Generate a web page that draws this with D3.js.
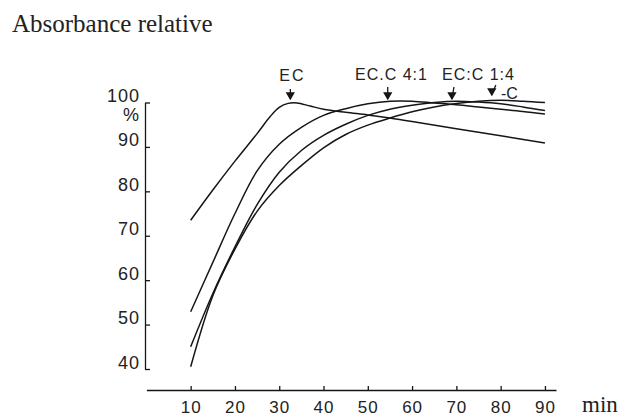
<!DOCTYPE html>
<html>
<head>
<meta charset="utf-8">
<script src="https://cdn.jsdelivr.net/npm/d3@7/dist/d3.min.js"></script>
<style>
  html, body { margin: 0; padding: 0; background: #fff; }
  svg { display: block; }
</style>
</head>
<body>
<script>
// ---- data ----
const title = "Absorbance relative";
const xTicks = [10, 20, 30, 40, 50, 60, 70, 80, 90];
const yTicks = [40, 50, 60, 70, 80, 90, 100];

const ecTime  = [10, 15, 20, 25, 28, 30, 32, 34, 37, 40, 45, 50, 55, 60, 70, 80, 90];
const ecValue = [73.5, 80.3, 86.8, 93, 96.9, 98.9, 99.8, 99.9, 99.2, 98.5, 97.8, 97.2, 96.5, 95.7, 94.1, 92.5, 90.9];

const minutes = [10, 15, 20, 25, 30, 35, 40, 45, 50, 55, 60, 65, 70, 75, 80, 85, 90];
const ec41Value = [52.9, 64, 75, 84.6, 90.6, 94.4, 97.1, 98.6, 99.7, 100.3, 100.3, 99.9, 99.5, 99, 98.5, 98, 97.4];
const ec14Value = [45, 57, 67.5, 77, 84.3, 89.2, 92.6, 95.1, 97.1, 98.5, 99.4, 100, 100.3, 100.1, 99.7, 99, 98.2];
const cValue    = [40.5, 56.5, 67, 75.5, 81.3, 85.8, 89.8, 92.8, 94.9, 96.5, 97.9, 99, 99.8, 100.3, 100.5, 100.3, 100];

const labels   = ["EC", "EC.C 4:1", "EC:C 1:4", "-C"];
const peakTime = [32.5, 54.5, 69, 78];

// ---- drawing ----
const W = 622, H = 418;
const svg = d3.select("body").append("svg").attr("width", W).attr("height", H);

const x = d3.scaleLinear().domain([0, 92.5]).range([146.4, 556]);
const y = d3.scaleLinear().domain([40, 100]).range([369, 102.5]);

const ink = "#161616";

svg.append("text")
  .attr("x", 12).attr("y", 32)
  .attr("font-family", "Liberation Serif, Times New Roman, serif")
  .attr("font-size", 25)
  .attr("fill", "#222")
  .text(title);

// x axis
const xAxis = svg.append("g")
  .attr("transform", `translate(0,390)`)
  .call(d3.axisBottom(x).tickValues(xTicks).tickSizeInner(-4).tickSizeOuter(0).tickPadding(0));
xAxis.select(".domain").attr("stroke", ink).attr("stroke-width", 1.3);
xAxis.selectAll(".tick line").attr("stroke", ink).attr("stroke-width", 1.3);
xAxis.selectAll(".tick text")
  .attr("y", 23).attr("dy", 0)
  .attr("font-family", "Liberation Sans, Arial, sans-serif")
  .attr("font-size", 17)
  .attr("letter-spacing", 1)
  .attr("fill", "#222");

svg.append("text")
  .attr("x", 582).attr("y", 412)
  .attr("font-family", "Liberation Serif, Times New Roman, serif")
  .attr("font-size", 23)
  .attr("fill", "#222")
  .text("min");

// y axis
const yAxis = svg.append("g")
  .attr("transform", `translate(145,0)`)
  .call(d3.axisLeft(y).tickValues(yTicks).tickSizeInner(-5).tickSizeOuter(0).tickPadding(5));
yAxis.select(".domain").attr("stroke", ink).attr("stroke-width", 1.3);
yAxis.selectAll(".tick line").attr("stroke", ink).attr("stroke-width", 1.3);
yAxis.selectAll(".tick text")
  .attr("dy", 0).attr("y", -1)
  .attr("font-family", "Liberation Sans, Arial, sans-serif")
  .attr("font-size", 18)
  .attr("letter-spacing", 1)
  .attr("fill", "#222");

svg.append("text")
  .attr("x", 139).attr("y", y(100) + 18)
  .attr("text-anchor", "end")
  .attr("font-family", "Liberation Sans, Arial, sans-serif")
  .attr("font-size", 18)
  .attr("fill", "#222")
  .text("%");

// curves
const line = d3.line().x(d => x(d[0])).y(d => y(d[1])).curve(d3.curveCatmullRom.alpha(0.5));
const series = [
  d3.zip(ecTime, ecValue),
  d3.zip(minutes, ec41Value),
  d3.zip(minutes, ec14Value),
  d3.zip(minutes, cValue)
];
svg.append("g").selectAll("path").data(series).join("path")
  .attr("d", line)
  .attr("fill", "none")
  .attr("stroke", ink)
  .attr("stroke-width", 1.5);

// annotations
const labelFont = "Liberation Sans, Arial, sans-serif";
const lab = svg.append("g").attr("font-family", labelFont).attr("font-size", 16).attr("fill", "#222");
lab.append("text").attr("x", x(peakTime[0]) - 11).attr("y", 81).attr("letter-spacing", 2).text(labels[0]);
lab.append("text").attr("x", 355).attr("y", 80).attr("letter-spacing", 1).text(labels[1]);
lab.append("text").attr("x", 442).attr("y", 80).attr("letter-spacing", 1).text(labels[2]);
lab.append("text").attr("x", 501).attr("y", 99).text(labels[3]);

// arrows pointing at each maximum
const arrowG = svg.append("g").attr("stroke", ink).attr("fill", ink).attr("stroke-width", 1.3);
const arrowSpecs = [
  {t: peakTime[0], top: 89, bot: 99, slant: 0},
  {t: peakTime[1], top: 87, bot: 99, slant: 0},
  {t: peakTime[2], top: 87, bot: 99, slant: -2},
  {t: peakTime[3], top: 85, bot: 95, slant: -4}
];
arrowSpecs.forEach(a => {
  const xb = x(a.t), xt = xb - a.slant;
  arrowG.append("line").attr("x1", xt).attr("y1", a.top).attr("x2", xb).attr("y2", a.bot);
  arrowG.append("path").attr("d", `M${xb - 3.5},${a.bot - 6} L${xb},${a.bot} L${xb + 3.5},${a.bot - 6} Z`);
});
</script>
</body>
</html>
